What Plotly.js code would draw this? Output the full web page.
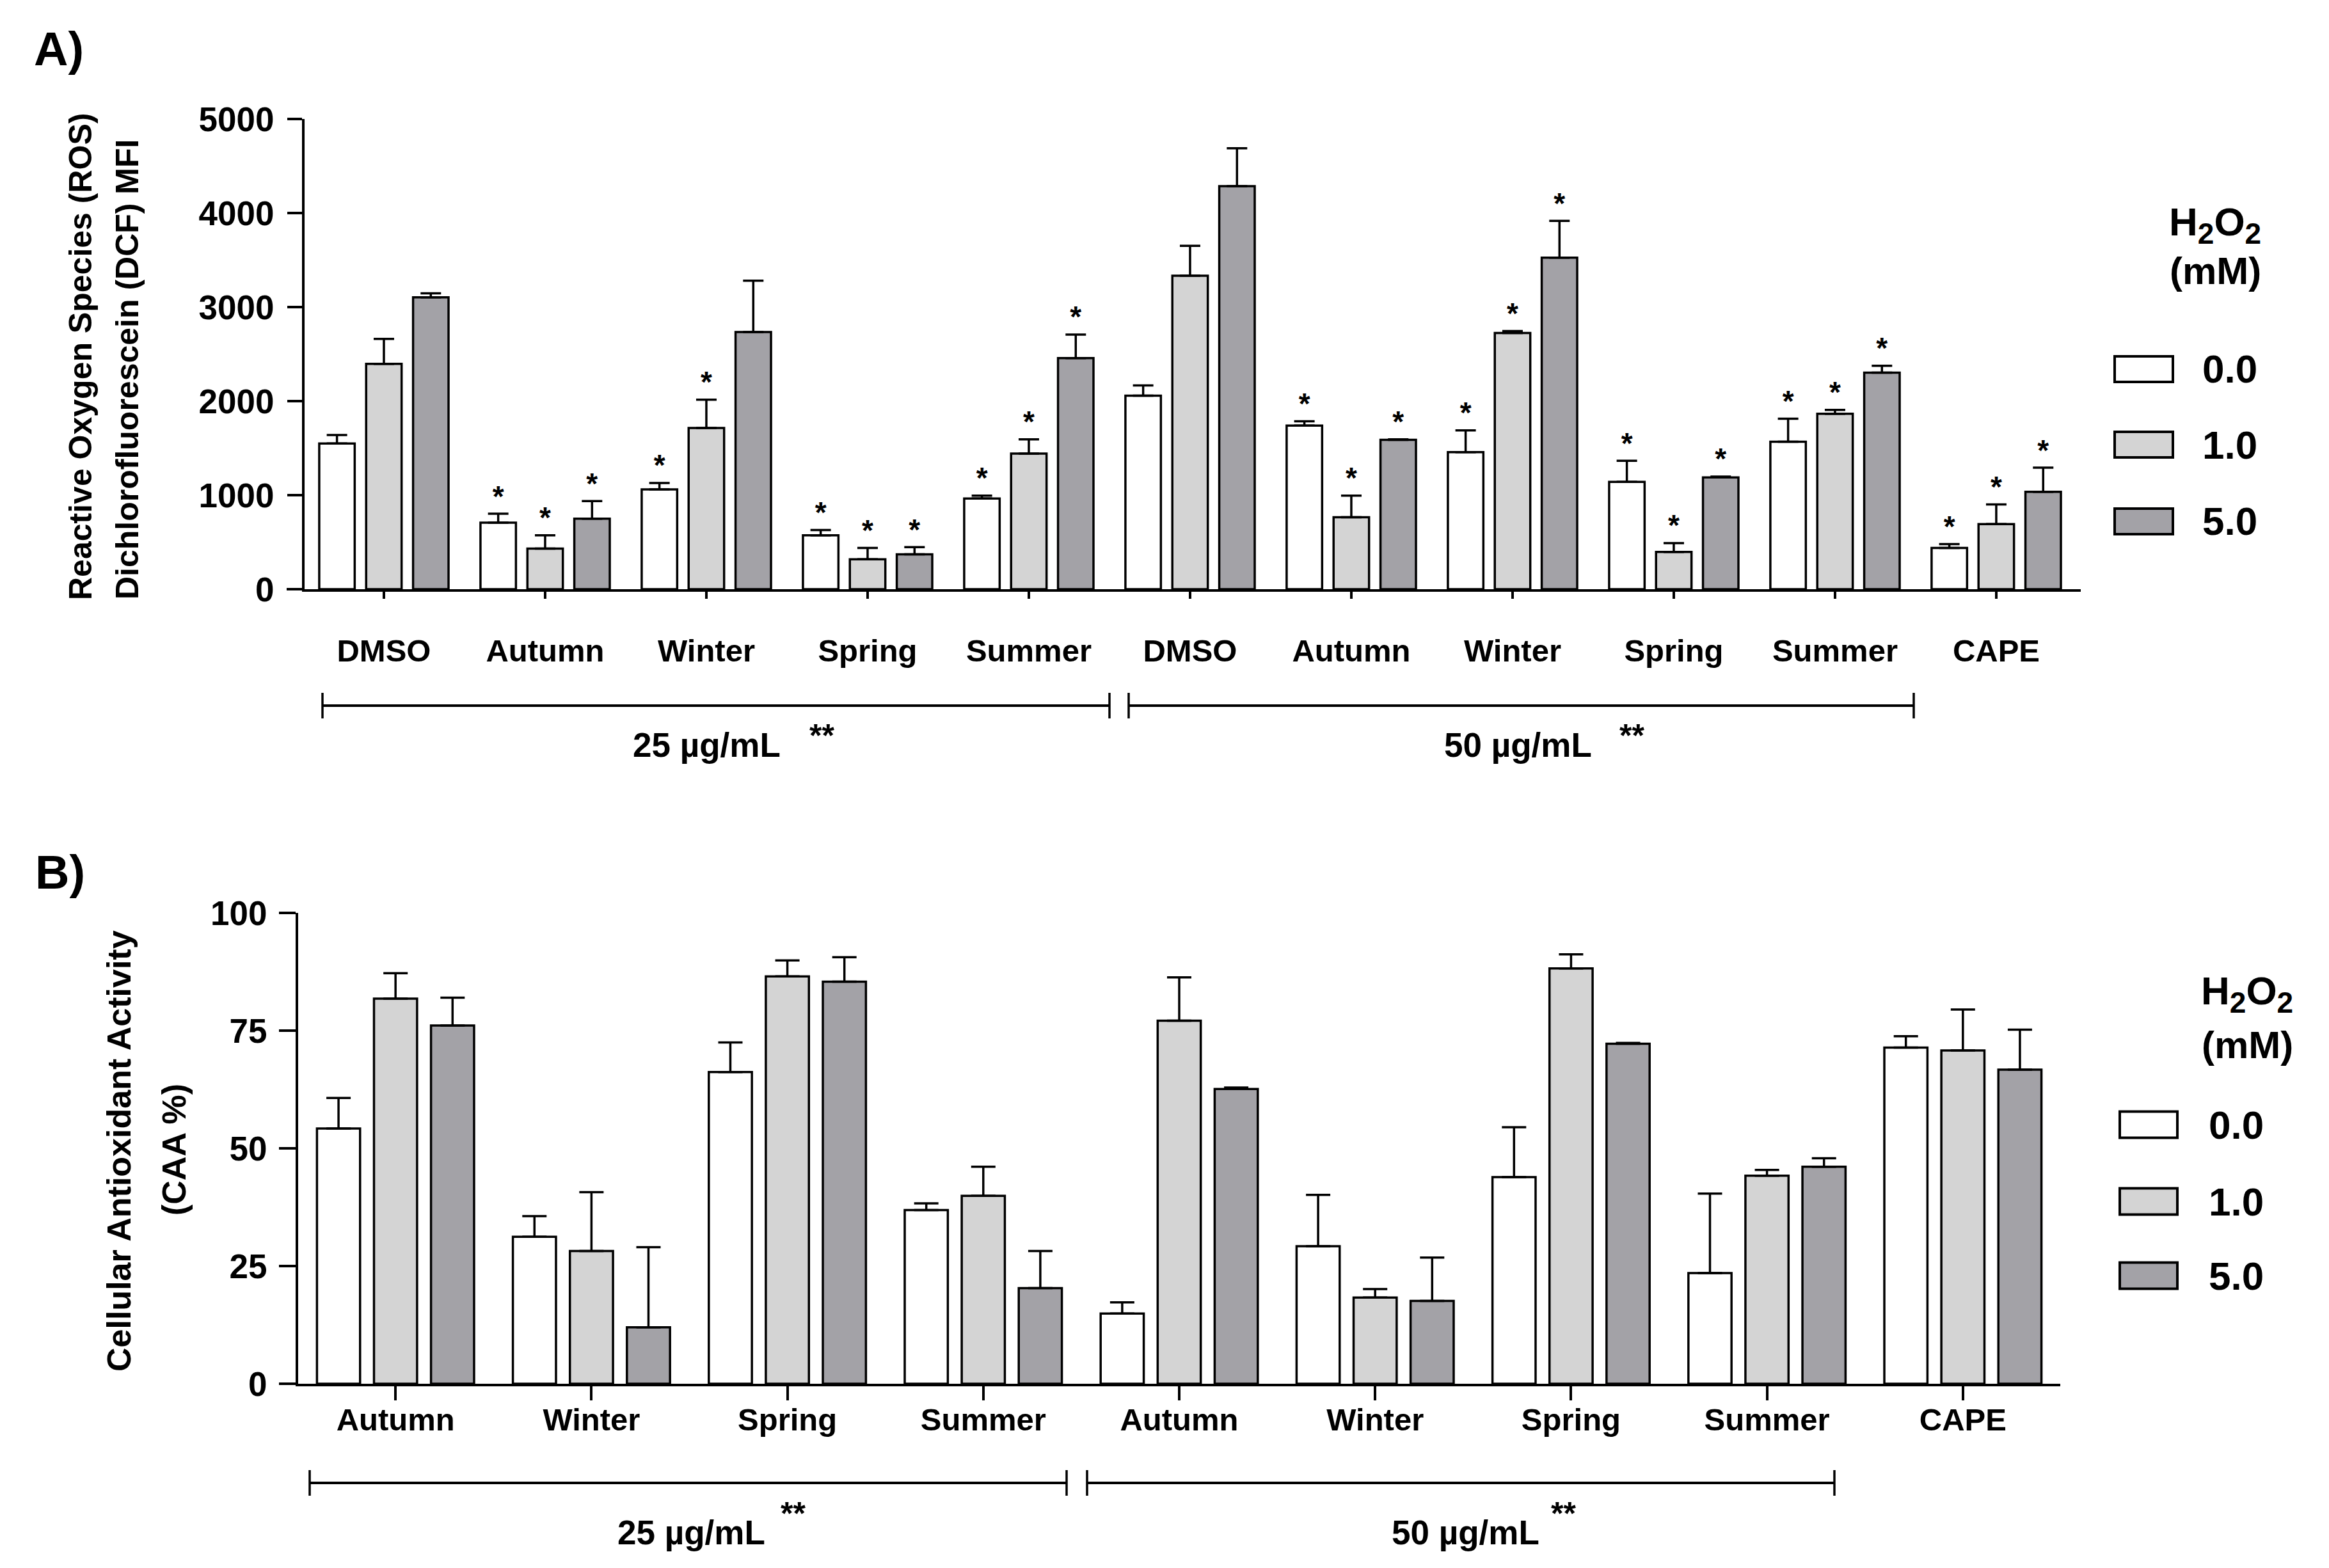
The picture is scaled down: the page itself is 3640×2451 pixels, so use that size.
<!DOCTYPE html>
<html>
<head>
<meta charset="utf-8">
<script src="https://cdn.plot.ly/plotly-3.0.1.min.js"></script>
<style>html,body{margin:0;padding:0;background:#fff;}#chart{width:3640px;height:2451px;}</style>
</head>
<body>
<div id="chart"></div>
<script>
// ---------------- DATA ----------------
const doses = ["0.0", "1.0", "5.0"];              // H2O2 (mM)
const doseColors = ["#ffffff", "#d4d4d4", "#a3a2a7"];

// Panel A : ROS (DCF MFI)
const catsA = ["DMSO","Autumn","Winter","Spring","Summer","DMSO","Autumn","Winter","Spring","Summer","CAPE"];
const rosH0    = [1550, 708, 1062, 573, 964, 2057, 1740, 1458, 1141, 1568, 438];
const rosH0Err = [90, 94, 68, 57, 31, 110, 46, 230, 224, 245, 41];
const rosH1    = [2396, 432, 1714, 318, 1443, 3333, 766, 2724, 396, 1865, 693];
const rosH1Err = [265, 141, 302, 120, 151, 318, 229, 21, 94, 41, 208];
const rosH5    = [3104, 750, 2734, 370, 2458, 4286, 1589, 3526, 1188, 2302, 1036];
const rosH5Err = [42, 187, 547, 78, 250, 402, 5, 391, 10, 73, 256];
const rosH0Sig = [0,1,1,1,1,0,1,1,1,1,1];
const rosH1Sig = [0,1,1,1,1,0,1,1,1,1,1];
const rosH5Sig = [0,1,0,1,1,0,1,1,1,1,1];

// Panel B : CAA %
const catsB = ["Autumn","Winter","Spring","Summer","Autumn","Winter","Spring","Summer","CAPE"];
const caaH0    = [54.2, 31.2, 66.2, 36.9, 14.9, 29.2, 43.9, 23.5, 71.4];
const caaH0Err = [6.5, 4.4, 6.3, 1.4, 2.4, 10.9, 10.6, 16.9, 2.4];
const caaH1    = [81.8, 28.2, 86.5, 39.9, 77.1, 18.3, 88.2, 44.2, 70.8];
const caaH1Err = [5.4, 12.5, 3.4, 6.2, 9.2, 1.8, 3.0, 1.2, 8.7];
const caaH5    = [76.1, 12.0, 85.4, 20.3, 62.6, 17.6, 72.2, 46.1, 66.7];
const caaH5Err = [5.9, 17.0, 5.2, 7.9, 0.3, 9.2, 0.2, 1.8, 8.5];

const groupLabels = ["25 µg/mL", "50 µg/mL"];
const titleA = ["Reactive Oxygen Species (ROS)", "Dichlorofluorescein (DCF) MFI"];
const titleB = ["Cellular Antioxidant Activity", "(CAA %)"];

// ---------------- STYLE ----------------
const W = 3640, H = 2451;
const px = x => x / W;
const py = y => 1 - y / H;
const FONT = "Arial, 'Liberation Sans', Helvetica, sans-serif";
const BARGAP = 0.127, BARGROUPGAP = 0.244;
const slot = (1 - BARGAP) / 3;

const idxA = catsA.map((_, i) => i);
const idxB = catsB.map((_, i) => i);

const valsA = [rosH0, rosH1, rosH5], errsA = [rosH0Err, rosH1Err, rosH5Err], sigA = [rosH0Sig, rosH1Sig, rosH5Sig];
const valsB = [caaH0, caaH1, caaH5], errsB = [caaH0Err, caaH1Err, caaH5Err];

const traces = [];
function barTrace(x, y, err, k, xa, ya, capw) {
  return {
    type: "bar", x: x, y: y, xaxis: xa, yaxis: ya, name: doses[k], showlegend: false,
    marker: {color: doseColors[k], line: {color: "#000", width: 3.5}},
    error_y: {type: "data", symmetric: false, array: err, arrayminus: err.map(() => 0),
              color: "#000", thickness: 3.5, width: capw},
    hoverinfo: "skip"
  };
}
for (let k = 0; k < 3; k++) traces.push(barTrace(idxA, valsA[k], errsA[k], k, "x", "y", 16));
for (let k = 0; k < 3; k++) traces.push(barTrace(idxB, valsB[k], errsB[k], k, "x2", "y2", 19));

// significance stars (panel A)
for (let k = 0; k < 3; k++) {
  const xs = [], ys = [];
  idxA.forEach(i => { if (sigA[k][i]) { xs.push(i + (k - 1) * slot); ys.push(valsA[k][i] + errsA[k][i]); } });
  traces.push({type: "scatter", mode: "text", x: xs, y: ys, text: xs.map(() => "*"),
    textposition: "top center", textfont: {family: FONT, size: 46, color: "#000", weight: "bold"},
    xaxis: "x", yaxis: "y", showlegend: false, cliponaxis: false, hoverinfo: "skip"});
}

const axisBase = {showline: true, linecolor: "#000", linewidth: 4, ticks: "outside", tickcolor: "#000",
  tickwidth: 4, showgrid: false, zeroline: false, fixedrange: true};

const annotations = [];
const shapes = [];
function ann(text, x, y, size, opts) {
  annotations.push(Object.assign({text: text, x: px(x), y: py(y), xref: "paper", yref: "paper",
    showarrow: false, font: {family: FONT, size: size, color: "#000", weight: "bold"},
    xanchor: "center", yanchor: "middle"}, opts || {}));
}
function line(x0, y0, x1, y1, w) {
  shapes.push({type: "line", xref: "paper", yref: "paper", x0: px(x0), y0: py(y0), x1: px(x1), y1: py(y1),
    line: {color: "#000", width: w}});
}

// panel letters
ann("A)", 92, 76, 74);
ann("B)", 94, 1364, 74);

// y titles
ann(titleA[0], 126, 558, 50, {textangle: -90});
ann(titleA[1], 199, 578, 50, {textangle: -90});
ann(titleB[0], 186, 1799, 52, {textangle: -90});
ann(titleB[1], 272, 1797, 52, {textangle: -90});

// brackets
function bracket(x0, x1, y, h) {
  line(x0, y, x1, y, 4);
  line(x0, y - h, x0, y + h, 3.5);
  line(x1, y - h, x1, y + h, 3.5);
}
bracket(504, 1734, 1103, 20);
bracket(1764, 2991, 1103, 20);
bracket(484, 1667, 2318, 20);
bracket(1699, 2867, 2318, 20);

// group labels
ann(groupLabels[0], 1104, 1164, 53);
ann("**", 1263, 1150, 50, {xanchor: "left"});
ann(groupLabels[1], 2372, 1164, 53);
ann("**", 2529, 1150, 50, {xanchor: "left"});
ann(groupLabels[0], 1080, 2395, 53);
ann("**", 1218, 2366, 50, {xanchor: "left"});
ann(groupLabels[1], 2290, 2395, 53);
ann("**", 2422, 2366, 50, {xanchor: "left"});

// x-axis line extensions left of the y axis
line(448, 921, 476, 921, 4);
line(439, 2163, 466, 2163, 4);

// legends
const SUB = '<sub><span style="font-size:46px">2</span></sub>';
function legend(tx, ty1, ty2, sx0, sx1, sy, sh, lx) {
  ann("H" + SUB + "O" + SUB, tx, ty1, 62);
  ann("(mM)", tx, ty2, 60);
  for (let k = 0; k < 3; k++) {
    shapes.push({type: "rect", xref: "paper", yref: "paper", x0: px(sx0), x1: px(sx1),
      y0: py(sy[k] - sh / 2), y1: py(sy[k] + sh / 2), fillcolor: doseColors[k], line: {color: "#000", width: 4}});
    ann(doses[k], lx, sy[k], 62, {xanchor: "left"});
  }
}
legend(3462, 352, 424, 3305, 3396, [577, 695, 815], 40, 3440);
legend(3512, 1553, 1633, 3313, 3403, [1758, 1878, 1994], 41, 3450);

const layout = {
  width: W, height: H, margin: {l: 0, r: 0, t: 0, b: 0},
  paper_bgcolor: "#fff", plot_bgcolor: "rgba(0,0,0,0)",
  barmode: "group", bargap: BARGAP, bargroupgap: BARGROUPGAP,
  font: {family: FONT, color: "#000"},
  showlegend: false,
  xaxis: Object.assign({}, axisBase, {domain: [px(476), px(3252)], range: [-0.492, 10.524], anchor: "y",
    tickmode: "array", tickvals: idxA, ticktext: catsA, ticklen: 11, ticklabelstandoff: 39,
    tickfont: {family: FONT, size: 49, color: "#000", weight: "bold"}}),
  yaxis: Object.assign({}, axisBase, {domain: [py(921), py(186)], range: [0, 5000], anchor: "x",
    tickmode: "linear", tick0: 0, dtick: 1000, ticklen: 23, ticklabelstandoff: 10,
    tickfont: {family: FONT, size: 53, color: "#000", weight: "bold"}}),
  xaxis2: Object.assign({}, axisBase, {domain: [px(466), px(3220)], range: [-0.497, 8.497], anchor: "y2",
    tickmode: "array", tickvals: idxB, ticktext: catsB, ticklen: 22, ticklabelstandoff: -12,
    tickfont: {family: FONT, size: 49, color: "#000", weight: "bold"}}),
  yaxis2: Object.assign({}, axisBase, {domain: [py(2163), py(1427)], range: [0, 100], anchor: "x2",
    tickmode: "linear", tick0: 0, dtick: 25, ticklen: 26, ticklabelstandoff: 8,
    tickfont: {family: FONT, size: 53, color: "#000", weight: "bold"}}),
  annotations: annotations,
  shapes: shapes
};

Plotly.newPlot("chart", traces, layout, {staticPlot: true, displayModeBar: false});
</script>
</body>
</html>
